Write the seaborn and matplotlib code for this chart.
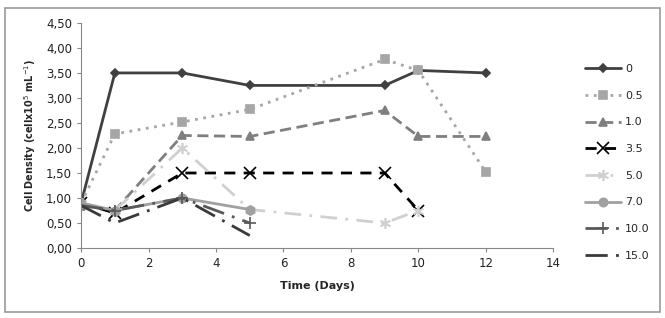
import matplotlib
matplotlib.use('Agg')
import matplotlib.pyplot as plt
import matplotlib.patches as mpatches
from matplotlib.ticker import FuncFormatter
import numpy as np
import pandas as pd
import seaborn as sns

# values
days_long = [0, 1, 3, 5, 9, 10, 12]
days_35 = [0, 1, 3, 5, 9, 10]
days_short = [0, 1, 3, 5]

c_0 = [0.90, 3.50, 3.50, 3.25, 3.25, 3.55, 3.50]
c_05 = [0.90, 2.28, 2.52, 2.77, 3.77, 3.55, 1.52]
c_10 = [0.85, 0.75, 2.25, 2.23, 2.75, 2.23, 2.23]
c_35 = [0.90, 0.70, 1.50, 1.50, 1.50, 0.75]
c_50 = [0.90, 0.75, 2.00, 0.77, 0.50, 0.75]
c_70 = [0.90, 0.75, 1.00, 0.77]
c_100 = [0.85, 0.75, 1.00, 0.50]
c_150 = [0.85, 0.50, 1.00, 0.25]

series = [
    ('0', days_long, c_0, '#404040', '-', 'D', 4),
    ('0.5', days_long, c_05, '#a6a6a6', (0, (1, 2)), 's', 6),
    ('1.0', days_long, c_10, '#7f7f7f', (0, (4, 2)), '^', 6),
    ('3.5', days_35, c_35, '#000000', (0, (4, 3)), 'x', 8),
    ('5.0', days_35, c_50, '#d0d0d0', (0, (6, 3, 1, 3)), (6, 2, 0), 8),
    ('7.0', days_short, c_70, '#a0a0a0', '-', 'o', 6),
    ('10.0', days_short, c_100, '#595959', (0, (8, 3, 1, 3)), '+', 9),
    ('15.0', days_short, c_150, '#3a3a3a', (0, (8, 3, 1, 3)), None, 0),
]

sns.set_style('white')
plt.rcParams['font.family'] = ['DejaVu Sans']

fig = plt.figure(figsize=(6.65, 3.18), dpi=100)
ax = fig.add_axes([0.122, 0.22, 0.71, 0.708])

for name, x, y, col, ls, mk, ms in series:
    df = pd.DataFrame({'day': x, 'dens': y})
    sns.lineplot(data=df, x='day', y='dens', ax=ax, color=col,
                 linestyle=ls, linewidth=2, marker=mk, markersize=ms,
                 markeredgecolor=col, markerfacecolor=col,
                 markeredgewidth=1.2, label=name)

ax.set_xlim(0, 14)
ax.set_ylim(0, 4.5)
ax.set_xticks(np.arange(0, 15, 2))
ax.set_yticks(np.arange(0, 4.51, 0.5))
ax.yaxis.set_major_formatter(FuncFormatter(lambda v, p: f'{v:.2f}'.replace('.', ',')))
ax.tick_params(axis='both', labelsize=8.5, length=3, direction='out',
               color='#888888', left=True, bottom=True, labelcolor='#222222')
for s in ['top', 'right']:
    ax.spines[s].set_visible(False)
for s in ['left', 'bottom']:
    ax.spines[s].set_color('#888888')

ax.set_xlabel('Time (Days)', fontsize=8, fontweight='bold', labelpad=8)
ax.set_ylabel('Cell Density (cellx10$^5$ mL$^{-1}$)', fontsize=7,
              fontweight='bold', labelpad=6)

ax.legend(loc='upper left', bbox_to_anchor=(0.865, 0.83),
          bbox_transform=fig.transFigure, frameon=False, fontsize=8,
          handlelength=3.2, labelspacing=1.5, handletextpad=0.4)

fig.patches.append(mpatches.Rectangle((0.008, 0.02), 0.984, 0.955,
                                      transform=fig.transFigure, fill=False,
                                      edgecolor='#999999', linewidth=1.2))

fig.savefig('out.png', dpi=100)
